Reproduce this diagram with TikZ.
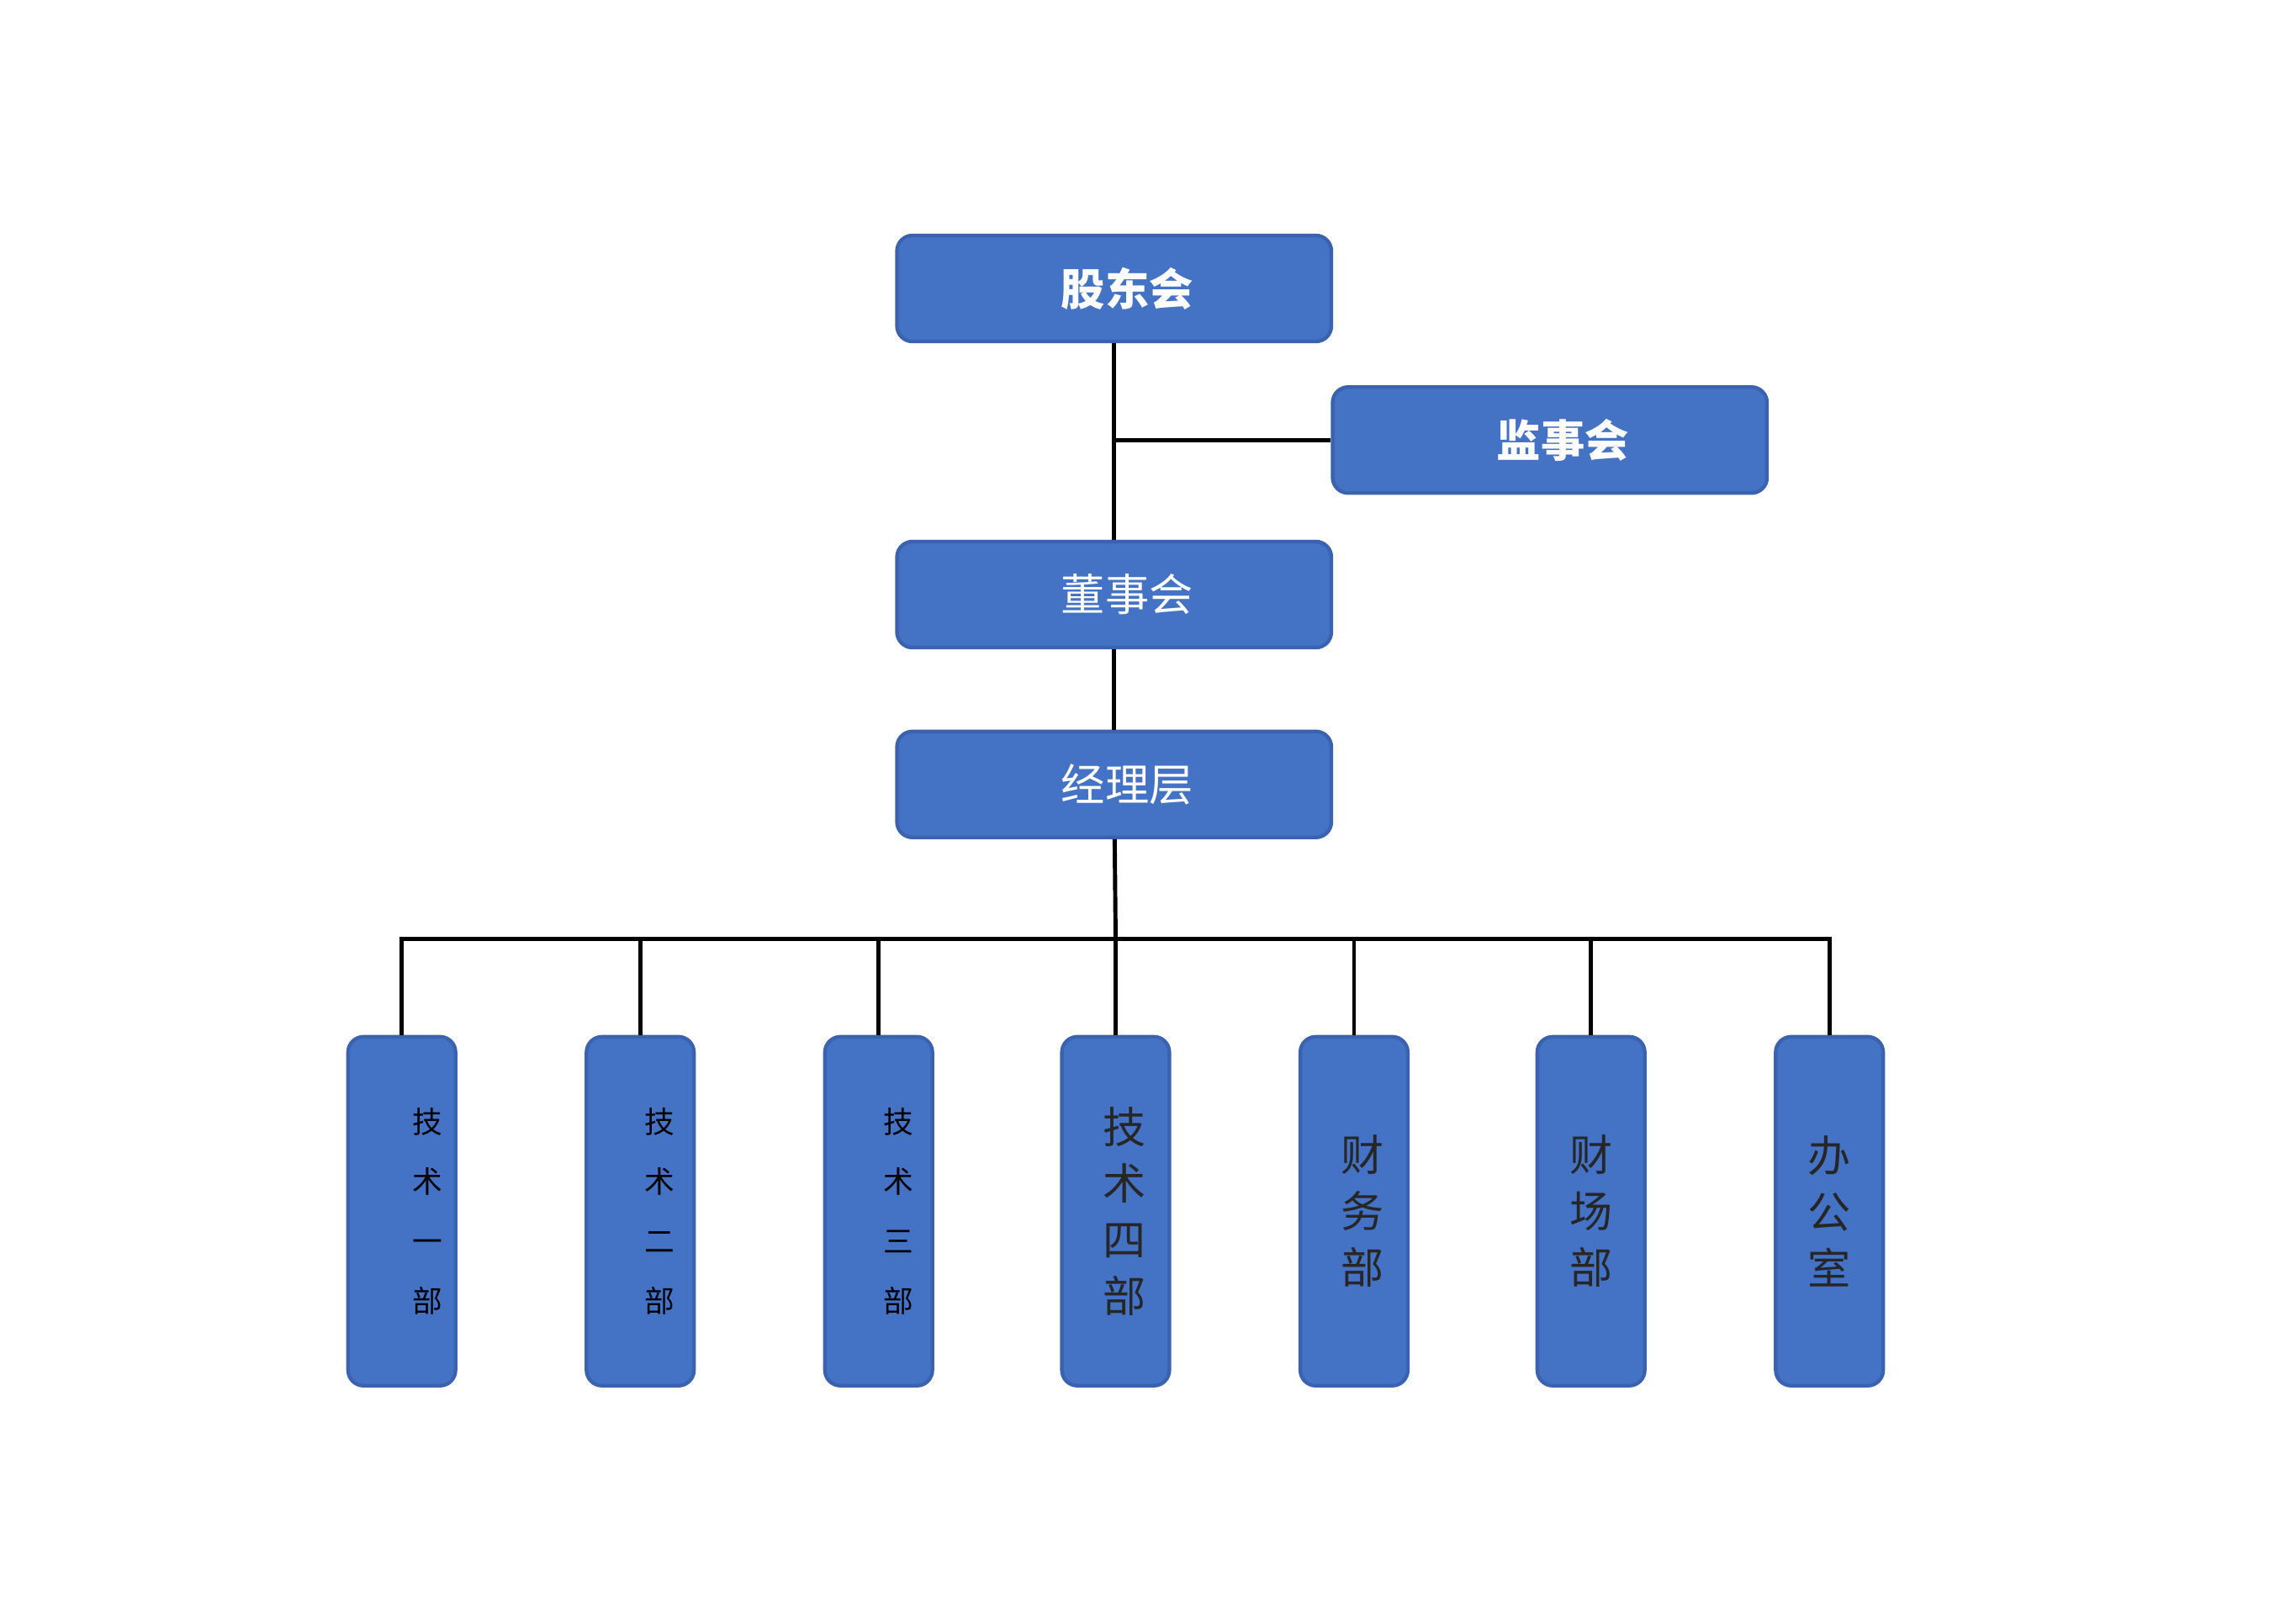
\documentclass[tikz,border=0pt]{standalone}
\usepackage{fontspec}
\newfontfamily\cjk{Noto Sans CJK SC}
\definecolor{boxblue}{HTML}{4472C4}
\definecolor{boxedge}{HTML}{3A62AE}
\begin{document}
\begin{tikzpicture}[x=0.01cm,y=-0.01cm,
  wide/.style={draw=boxedge,line width=0.7pt,fill=boxblue,rounded corners=3pt,
    minimum width=2.95cm,minimum height=0.72cm,text=white,font=\cjk\fontsize{8.5}{10}\selectfont},
  tall/.style={draw=boxedge,line width=0.7pt,fill=boxblue,rounded corners=3pt,
    minimum width=0.73cm,minimum height=2.37cm,align=center,inner sep=0pt},
  small/.style={tall,font=\cjk\fontsize{5.8}{11.5}\selectfont,text=black},
  big/.style={tall,font=\cjk\fontsize{8.3}{10.9}\selectfont,text=black!85},
  link/.style={line width=0.8pt}]
\useasboundingbox (0,0) rectangle (1560,1099);

%top
\node[wide,font=\cjk\bfseries\fontsize{8.5}{10}\selectfont] (gdh) at (757,196) {\hspace{0.6em}股东会};
\node[wide,font=\cjk\bfseries\fontsize{8.5}{10}\selectfont] (jsh) at (1053,299) {\hspace{0.6em}监事会};
\node[wide] (dsh) at (757,404) {\hspace{0.6em}董事会};
\node[wide] (jlc) at (757,533) {\hspace{0.6em}经理层};

%departments
\node[small] (js1) at (273,823) {\hspace{1.7em}技\\\hspace{1.7em}术\\\hspace{1.7em}一\\\hspace{1.7em}部};
\node[small] (js2) at (435,823) {\hspace{1.3em}技\\\hspace{1.3em}术\\\hspace{1.3em}二\\\hspace{1.3em}部};
\node[small] (js3) at (597,823) {\hspace{1.3em}技\\\hspace{1.3em}术\\\hspace{1.3em}三\\\hspace{1.3em}部};
\node[big] (js4) at (758,823) {\hspace{0.4em}技\\\hspace{0.4em}术\\\hspace{0.4em}四\\\hspace{0.4em}部};
\node[big] (cwb) at (920,823) {\hspace{0.4em}财\\\hspace{0.4em}务\\\hspace{0.4em}部};
\node[big] (scb) at (1081,823) {财\\场\\部};
\node[big] (bgs) at (1243,823) {办\\公\\室};

%lines
\coordinate (mid) at (758,299);
\coordinate (bus) at (758,638);
\draw[link] (gdh) -- (dsh);
\draw[link] (mid) -- (jsh);
\draw[link] (dsh) -- (jlc);
\draw[link] (jlc) -- (bus);
\draw[link] (js1.north) |- (bus) -| (bgs.north);
\foreach \d in {js2,js3,js4,cwb,scb}
  \draw[link] (\d.north) -- (\d.north |- bus);
\end{tikzpicture}
\end{document}
